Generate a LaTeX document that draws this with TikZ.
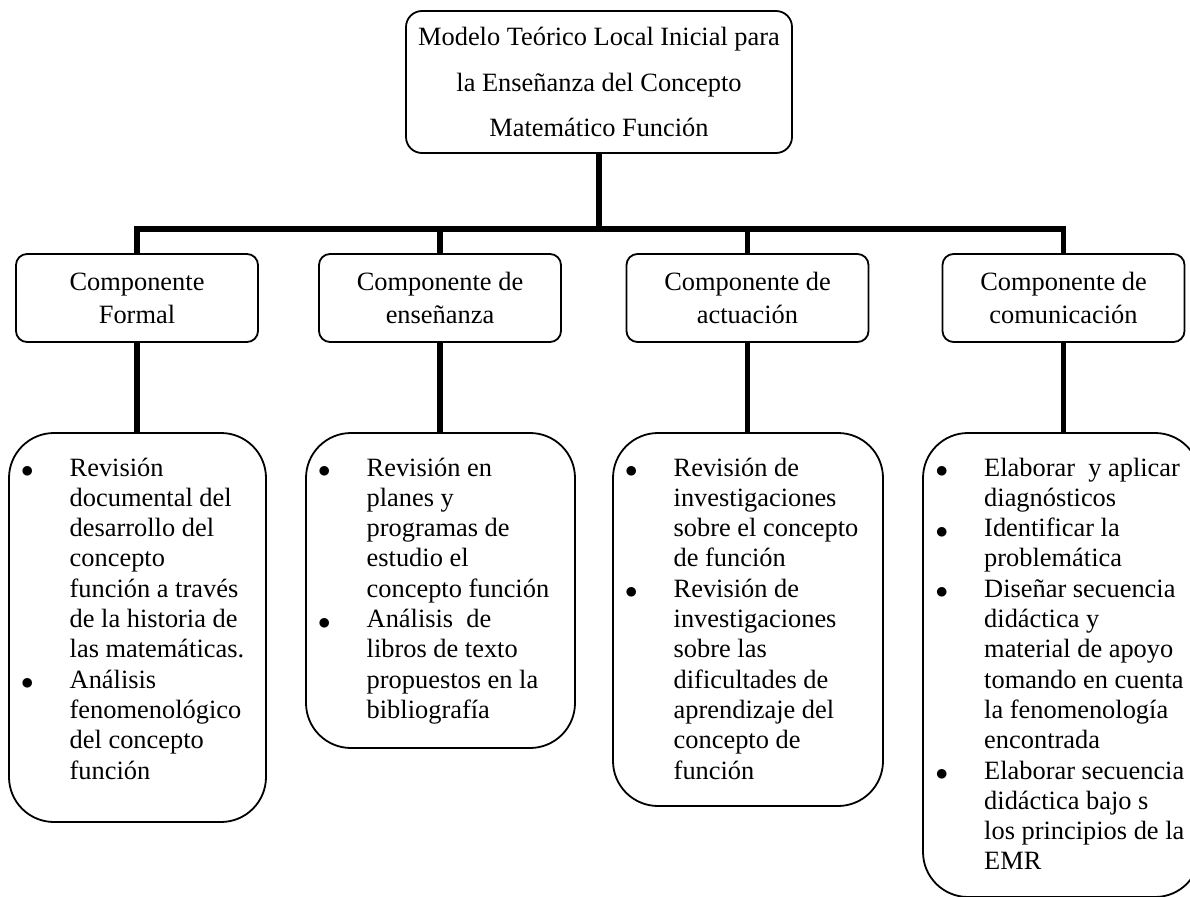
\documentclass[tikz,border=0pt]{standalone}
\usepackage{fontspec}
\setmainfont{Liberation Serif}
\begin{document}
\begin{tikzpicture}[x=1pt,y=-1pt,
  every node/.style={font=\fontsize{26.4}{30.3}\selectfont},
  topbox/.style={draw, line width=1.8pt, rounded corners=16pt, minimum width=386pt, minimum height=142pt, inner sep=0pt, align=center, font=\fontsize{26.4}{45.5}\selectfont},
  compbox/.style={draw, line width=1.8pt, rounded corners=11pt, minimum width=242pt, minimum height=88pt, inner sep=0pt, align=center, font=\fontsize{26.4}{33}\selectfont},
  listbox/.style={draw, line width=1.8pt, rounded corners=45pt, inner sep=0pt},
  listtext/.style={anchor=base west, inner sep=0pt},
  conn/.style={line width=5.5pt}
]
\useasboundingbox (0,0) rectangle (1190,896);
\clip (0,0) rectangle (1190,896);
\fill[white] (0,0) rectangle (1190,896);
\newcommand{\bul}{\makebox[48.5pt][l]{\raisebox{-1.5pt}{\fontsize{33}{33}\selectfont$\bullet$}}}

\node[topbox] (top) at (599,82) {Modelo Teórico Local Inicial para\\la Enseñanza del Concepto\\Matemático Función};

\node[compbox] (c1) at (137,298) {Componente\\Formal};
\node[compbox] (c2) at (440,298) {Componente de\\enseñanza};
\node[compbox] (c3) at (747.5,298) {Componente de\\actuación};
\node[compbox] (c4) at (1063.5,298) {Componente de\\comunicación};

\node[listbox, minimum width=257pt, minimum height=389pt] (b1) at (137.5,627.5) {};
\node[listbox, minimum width=269pt, minimum height=315pt] (b2) at (440.5,590.5) {};
\node[listbox, minimum width=270pt, minimum height=373pt] (b3) at (748,619.5) {};
\node[listbox, minimum width=277pt, minimum height=464pt] (b4) at (1061.5,665) {};

\node[listtext] (t1) at (21,476) {\begin{tabular}[t]{@{}l@{}l@{}}
\bul & Revisión\\
 & documental del\\
 & desarrollo del\\
 & concepto\\
 & función a través\\
 & de la historia de\\
 & las matemáticas.\\
\bul & Análisis\\
 & fenomenológico\\
 & del concepto\\
 & función
\end{tabular}};

\node[listtext] (t2) at (318,476) {\begin{tabular}[t]{@{}l@{}l@{}}
\bul & Revisión en\\
 & planes y\\
 & programas de\\
 & estudio el\\
 & concepto función\\
\bul & Análisis\ \ de\\
 & libros de texto\\
 & propuestos en la\\
 & bibliografía
\end{tabular}};

\node[listtext] (t3) at (625,476) {\begin{tabular}[t]{@{}l@{}l@{}}
\bul & Revisión de\\
 & investigaciones\\
 & sobre el concepto\\
 & de función\\
\bul & Revisión de\\
 & investigaciones\\
 & sobre las\\
 & dificultades de\\
 & aprendizaje del\\
 & concepto de\\
 & función
\end{tabular}};

\node[listtext] (t4) at (935.5,476) {\begin{tabular}[t]{@{}l@{}l@{}}
\bul & Elaborar\ \ y aplicar\\
 & diagnósticos\\
\bul & Identificar la\\
 & problemática\\
\bul & Diseñar secuencia\\
 & didáctica y\\
 & material de apoyo\\
 & tomando en cuenta\\
 & la fenomenología\\
 & encontrada\\
\bul & Elaborar secuencia\\
 & didáctica bajo s\\
 & los principios de la\\
 & EMR
\end{tabular}};

\coordinate (bar) at (599,229);
\draw[conn] (top.south) -- (bar);
\draw[conn] (c1.north) |- (bar);
\draw[conn] (c2.north) |- (bar);
\draw[conn] (c3.north) |- (bar);
\draw[conn] (c4.north) |- (bar);
\draw[conn] (c1.south) -- (c1.south |- b1.north);
\draw[conn] (c2.south) -- (c2.south |- b2.north);
\draw[conn] (c3.south) -- (c3.south |- b3.north);
\draw[conn] (c4.south) -- (c4.south |- b4.north);
\end{tikzpicture}
\end{document}
